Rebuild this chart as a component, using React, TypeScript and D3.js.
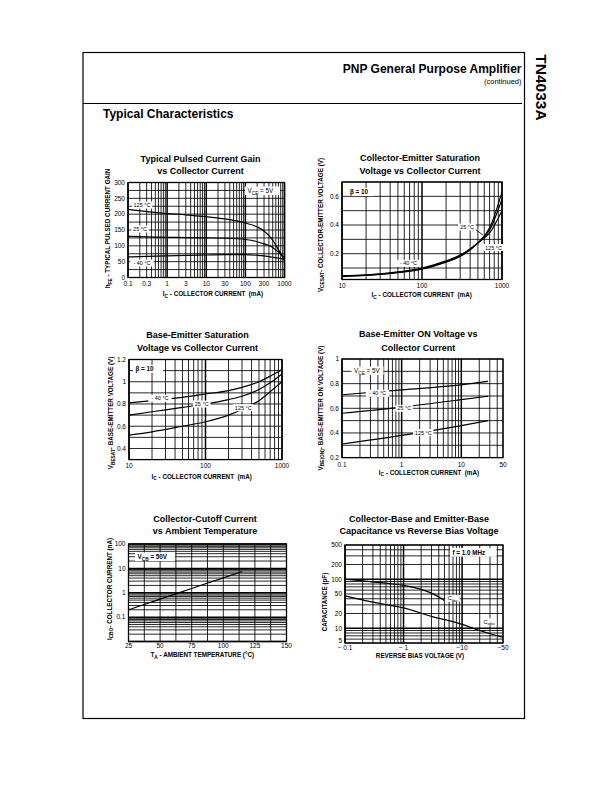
import React from 'react';
import * as d3 from 'd3';

// ---------------- DATA ----------------
// Chart 1: Typical Pulsed Current Gain vs Collector Current
const gainCurrent = [0.1, 0.3, 1, 3, 10, 30, 100, 200, 300, 500, 700, 1000];
const gain125 = [215, 208, 202, 198, 192, 185, 172, 160, 147, 118, 88, 55];
const gain25 = [130, 128, 127, 126, 125, 124, 120, 113, 106, 95, 80, 62];
const gainM40 = [65, 67, 68, 70, 71, 72, 72, 70, 68, 64, 61, 57];
const gainXTicks = [0.1, 0.3, 1, 3, 10, 30, 100, 300, 1000];
const gainYTicks = [0, 50, 100, 150, 200, 250, 300];

// Chart 2: Collector-Emitter Saturation Voltage
const vcesatCurrent = [10, 20, 30, 50, 100, 200, 300, 500, 700, 1000];
const vcesatM40 = [0.04, 0.048, 0.055, 0.068, 0.092, 0.14, 0.18, 0.275, 0.38, 0.63];
const vcesat25 = [0.043, 0.05, 0.057, 0.07, 0.095, 0.145, 0.185, 0.275, 0.365, 0.58];
const vcesat125 = [0.047, 0.053, 0.06, 0.073, 0.1, 0.15, 0.19, 0.275, 0.345, 0.5];
const vcesatXTicks = [10, 100, 1000];
const vcesatYTicks = [0.2, 0.4, 0.6];

// Chart 3: Base-Emitter Saturation Voltage
const vbesatCurrent = [10, 20, 50, 100, 200, 300, 500, 700, 1000];
const vbesatM40 = [0.81, 0.83, 0.86, 0.89, 0.92, 0.95, 1.0, 1.05, 1.11];
const vbesat25 = [0.7, 0.73, 0.77, 0.8, 0.84, 0.87, 0.93, 0.99, 1.07];
const vbesat125 = [0.52, 0.55, 0.6, 0.64, 0.7, 0.75, 0.83, 0.91, 1.0];
const vbesatXTicks = [10, 100, 1000];
const vbesatYTicks = [0.4, 0.6, 0.8, 1, 1.2];

// Chart 4: Base-Emitter ON Voltage
const vbeonCurrent = [0.1, 1, 10, 28];
const vbeonM40 = [0.71, 0.75, 0.79, 0.818];
const vbeon25 = [0.56, 0.61, 0.67, 0.698];
const vbeon125 = [0.31, 0.38, 0.46, 0.5];
const vbeonXTicks = [0.1, 1, 10, 50];
const vbeonYTicks = [0.2, 0.4, 0.6, 0.8, 1];

// Chart 5: Collector-Cutoff Current vs Ambient Temperature
const icboTemp = [25, 50, 75, 100, 115];
const icboCurrent = [0.2, 0.55, 1.5, 4.1, 7.4];
const icboXTicks = [25, 50, 75, 100, 125, 150];
const icboYTicks = [0.1, 1, 10, 100];

// Chart 6: Capacitance vs Reverse Bias Voltage
const ciboVoltage = [0.1, 0.2, 0.5, 1, 2, 3, 5];
const ciboValues = [100, 93, 83, 75, 62, 52, 37];
const coboVoltage = [0.1, 0.3, 1, 3, 10, 20, 50];
const coboValues = [46, 34, 26, 17.5, 12, 9, 6.5];
const capXTicks = [0.1, 1, 10, 50];
const capXLabels = ['\u2212 0.1', '\u2212 1', '\u221210', '\u221250'];
const capYTicks = [5, 10, 20, 50, 100, 200, 500];

// ---------------- HELPERS ----------------
type Pt = [number, number];
const zip = (xs: number[], ys: number[]): Pt[] => xs.map((v, i) => [v, ys[i]] as Pt);

function logGrid(min: number, max: number): number[] {
  const out: number[] = [];
  for (let d = Math.floor(Math.log10(min)); d <= Math.ceil(Math.log10(max)); d++) {
    for (let m = 1; m <= 9; m++) {
      const v = m * Math.pow(10, d);
      if (v >= min * 0.999 && v <= max * 1.001) out.push(v);
    }
  }
  return out;
}
const decades = (vals: number[]) => vals.filter((v) => Math.abs(Math.log10(v) - Math.round(Math.log10(v))) < 1e-6);
const stepGrid = (a: number, b: number, s: number) => d3.range(a, b + s / 2, s).map((v) => +v.toFixed(4));

const FONT = '"Liberation Sans", Arial, Helvetica, sans-serif';

function rich(str: string, subSize: number, shift: number) {
  const parts: { t: string; sub: boolean }[] = [];
  const re = /_\{([^}]*)\}/g;
  let last = 0;
  let m: RegExpExecArray | null;
  while ((m = re.exec(str))) {
    if (m.index > last) parts.push({ t: str.slice(last, m.index), sub: false });
    parts.push({ t: m[1], sub: true });
    last = m.index + m[0].length;
  }
  if (last < str.length) parts.push({ t: str.slice(last), sub: false });
  let shifted = false;
  return parts.map((p, i) => {
    if (p.sub) {
      shifted = true;
      return (
        <tspan key={i} dy={shift} fontSize={subSize}>
          {p.t}
        </tspan>
      );
    }
    const dy = shifted ? -shift : 0;
    shifted = false;
    return (
      <tspan key={i} dy={dy}>
        {p.t}
      </tspan>
    );
  });
}

interface Label { text: string; cx: number; cy: number; }
interface ChartSpec {
  id: string;
  left: number; right: number; top: number; bottom: number;
  x: any; y: any;
  xGrid: number[]; yGrid: number[]; xMajor: number[]; yMajor: number[];
  xTicks: number[]; xTickLabels?: string[]; yTicks: number[]; yTickLabels?: string[];
  yTickNudge?: number[];
  xTickY: number;
  series: Pt[][];
  labels: Label[];
  legend: { text: string; x: number; y: number; w: number; h: number; bold: boolean };
  title: [string, string]; titleX: number; titleY: [number, number];
  xTitle: string; xTitleX: number; xTitleY: number;
  yTitle: string; yTitleX: number; yTitleY: number;
  arrow?: [number, number, number, number];
}

function Chart({ s }: { s: ChartSpec }) {
  const line = d3
    .line<Pt>()
    .x((d) => s.x(d[0]))
    .y((d) => s.y(d[1]))
    .curve(d3.curveMonotoneX);
  const fmt = (v: number) => String(v);
  return (
    <g fontFamily={FONT}>
      <defs>
        <clipPath id={'clip-' + s.id}>
          <rect x={s.left} y={s.top} width={s.right - s.left} height={s.bottom - s.top} />
        </clipPath>
      </defs>
      {/* title */}
      <text x={s.titleX} y={s.titleY[0]} textAnchor="middle" fontSize={9} fontWeight="bold">
        {s.title[0]}
      </text>
      <text x={s.titleX} y={s.titleY[1]} textAnchor="middle" fontSize={9} fontWeight="bold">
        {s.title[1]}
      </text>
      {/* grid */}
      {s.xGrid.map((v, i) => (
        <line key={'xg' + i} x1={s.x(v)} x2={s.x(v)} y1={s.top} y2={s.bottom} stroke="#000"
          strokeWidth={s.xMajor.includes(v) ? 1.5 : 0.85} />
      ))}
      {s.yGrid.map((v, i) => (
        <line key={'yg' + i} x1={s.left} x2={s.right} y1={s.y(v)} y2={s.y(v)} stroke="#000"
          strokeWidth={s.yMajor.includes(v) ? 1.5 : 0.85} />
      ))}
      <rect x={s.left} y={s.top} width={s.right - s.left} height={s.bottom - s.top} fill="none" stroke="#000" strokeWidth={1.3} />
      {/* legend box */}
      <rect x={s.legend.x} y={s.legend.y} width={s.legend.w} height={s.legend.h} fill="#fff" />
      <text x={s.legend.x + 2.5} y={s.legend.y + s.legend.h - 2} fontSize={6.3} fontWeight={s.legend.bold ? 'bold' : 'normal'} style={{ whiteSpace: 'pre' }}>
        {rich(s.legend.text, 4.8, 1.6)}
      </text>
      {/* curves */}
      <g clipPath={`url(#clip-${s.id})`}>
        {s.series.map((pts, i) => (
          <path key={'c' + i} d={line(pts) || ''} fill="none" stroke="#000" strokeWidth={1.2} />
        ))}
      </g>
      {s.arrow && (
        <line x1={s.arrow[0]} y1={s.arrow[1]} x2={s.arrow[2]} y2={s.arrow[3]} stroke="#000" strokeWidth={0.8} />
      )}
      {/* curve labels */}
      {s.labels.map((l, i) => {
        const plain = l.text.replace(/_\{|\}/g, '');
        const w = plain.length * 2.9 + 3;
        return (
          <g key={'l' + i}>
            <rect x={l.cx - w / 2} y={l.cy - 3.5} width={w} height={7} fill="#fff" />
            <text x={l.cx} y={l.cy + 2} textAnchor="middle" fontSize={5.5} style={{ whiteSpace: 'pre' }}>
              {rich(l.text, 4.2, 1.5)}
            </text>
          </g>
        );
      })}
      {/* ticks */}
      {s.xTicks.map((v, i) => (
        <text key={'xt' + i} x={s.x(v)} y={s.xTickY + 2.3} textAnchor="middle" fontSize={6.5}>
          {s.xTickLabels ? s.xTickLabels[i] : fmt(v)}
        </text>
      ))}
      {s.yTicks.map((v, i) => (
        <text key={'yt' + i} x={s.left - 3} y={s.y(v) + 2.3 + (s.yTickNudge ? s.yTickNudge[i] : 0)} textAnchor="end" fontSize={6.5}>
          {s.yTickLabels ? s.yTickLabels[i] : fmt(v)}
        </text>
      ))}
      {/* axis titles */}
      <text x={s.xTitleX} y={s.xTitleY + 2.2} textAnchor="middle" fontSize={6.3} fontWeight="bold" style={{ whiteSpace: 'pre' }}>
        {rich(s.xTitle, 4.8, 1.5)}
      </text>
      <text transform={`translate(${s.yTitleX + 2.2},${s.yTitleY}) rotate(-90)`} textAnchor="middle" fontSize={6.3} fontWeight="bold" style={{ whiteSpace: 'pre' }}>
        {rich(s.yTitle, 4.8, 1.5)}
      </text>
    </g>
  );
}

// ---------------- SPECS ----------------
function buildSpecs(): ChartSpec[] {
  // Chart 1
  const x1 = d3.scaleLog().domain([0.1, 1000]).range([128, 284.5]);
  const y1 = d3.scaleLinear().domain([0, 300]).range([277.5, 182.5]);
  const g1 = logGrid(0.1, 1000);
  const c1: ChartSpec = {
    id: 'c1', left: 128, right: 284.5, top: 182.5, bottom: 277.5, x: x1, y: y1,
    xGrid: g1, xMajor: decades(g1), yGrid: stepGrid(0, 300, 25), yMajor: [],
    xTicks: gainXTicks, yTicks: gainYTicks, xTickY: 284,
    series: [zip(gainCurrent, gain125), zip(gainCurrent, gain25), zip(gainCurrent, gainM40)],
    labels: [
      { text: '125 °C', cx: 142, cy: 205 },
      { text: '25 °C', cx: 140, cy: 229 },
      { text: '- 40 °C', cx: 142, cy: 263 },
    ],
    legend: { text: 'V_{CE} = 5V', x: 245, y: 186.5, w: 35, h: 8.5, bold: false },
    title: ['Typical Pulsed Current Gain', 'vs Collector Current'], titleX: 200.5, titleY: [161.6, 174],
    xTitle: 'I_{C} - COLLECTOR CURRENT  (mA)', xTitleX: 213, xTitleY: 294,
    yTitle: 'h_{FE} - TYPICAL PULSED CURRENT GAIN', yTitleX: 108, yTitleY: 228.5,
  };
  // Chart 2
  const x2 = d3.scaleLog().domain([10, 1000]).range([342, 502]);
  const y2 = d3.scaleLinear().domain([0.02, 0.7]).range([279.5, 182]);
  const g2 = logGrid(10, 1000);
  const c2: ChartSpec = {
    id: 'c2', left: 342, right: 502, top: 182, bottom: 279.5, x: x2, y: y2,
    xGrid: g2, xMajor: decades(g2), yGrid: stepGrid(0.1, 0.7, 0.1), yMajor: [],
    xTicks: vcesatXTicks, yTicks: vcesatYTicks, xTickY: 286,
    series: [zip(vcesatCurrent, vcesatM40), zip(vcesatCurrent, vcesat25), zip(vcesatCurrent, vcesat125)],
    labels: [
      { text: '25 °C', cx: 467, cy: 227 },
      { text: '125 °C', cx: 493.5, cy: 247.5 },
      { text: '- 40 °C', cx: 408.5, cy: 263.3 },
    ],
    arrow: [474, 228.5, 483, 235],
    legend: { text: 'β = 10', x: 347.5, y: 188, w: 26, h: 8, bold: true },
    title: ['Collector-Emitter Saturation', 'Voltage vs Collector Current'], titleX: 420, titleY: [160.5, 174],
    xTitle: 'I_{C} - COLLECTOR CURRENT  (mA)', xTitleX: 421.7, xTitleY: 295,
    yTitle: 'V_{CESAT}- COLLECTOR-EMITTER VOLTAGE (V)', yTitleX: 320.5, yTitleY: 225,
  };
  // Chart 3
  const x3 = d3.scaleLog().domain([10, 1000]).range([129, 282]);
  const y3 = d3.scaleLinear().domain([0.3, 1.2]).range([459.6, 359.5]);
  const g3 = logGrid(10, 1000);
  const c3: ChartSpec = {
    id: 'c3', left: 129, right: 282, top: 359.5, bottom: 459.6, x: x3, y: y3,
    xGrid: g3, xMajor: decades(g3), yGrid: stepGrid(0.4, 1.2, 0.1), yMajor: [],
    xTicks: vbesatXTicks, yTicks: vbesatYTicks, xTickY: 465.7,
    series: [zip(vbesatCurrent, vbesatM40), zip(vbesatCurrent, vbesat25), zip(vbesatCurrent, vbesat125)],
    labels: [
      { text: '- 40 °C', cx: 160, cy: 398.3 },
      { text: '25 °C', cx: 201.7, cy: 404 },
      { text: '125 °C', cx: 243.3, cy: 407.7 },
    ],
    legend: { text: 'β = 10', x: 133, y: 364.8, w: 30, h: 8, bold: true },
    title: ['Base-Emitter Saturation', 'Voltage vs Collector Current'], titleX: 197.5, titleY: [337.5, 351],
    xTitle: 'I_{C} - COLLECTOR CURRENT  (mA)', xTitleX: 201.7, xTitleY: 476.5,
    yTitle: 'V_{BESAT}- BASE-EMITTER VOLTAGE (V)', yTitleX: 111, yTitleY: 413,
  };
  // Chart 4
  const x4 = d3.scaleLog().domain([0.1, 50]).range([342, 503]);
  const y4 = d3.scaleLinear().domain([0.2, 1.0]).range([457.6, 359]);
  const g4 = logGrid(0.1, 50);
  const c4: ChartSpec = {
    id: 'c4', left: 342, right: 503, top: 359, bottom: 457.6, x: x4, y: y4,
    xGrid: g4, xMajor: decades(g4), yGrid: stepGrid(0.2, 1.0, 0.1), yMajor: [],
    xTicks: vbeonXTicks, yTicks: vbeonYTicks, xTickY: 464.5,
    series: [zip(vbeonCurrent, vbeonM40), zip(vbeonCurrent, vbeon25), zip(vbeonCurrent, vbeon125)],
    labels: [
      { text: '- 40 °C', cx: 377.5, cy: 393.3 },
      { text: '25 °C', cx: 404.2, cy: 408.3 },
      { text: '125 °C', cx: 423.3, cy: 432.7 },
    ],
    legend: { text: 'V_{CE} = 5V', x: 351.5, y: 366.5, w: 32, h: 8.5, bold: false },
    title: ['Base-Emitter ON Voltage vs', 'Collector Current'], titleX: 418.3, titleY: [337, 350.5],
    xTitle: 'I_{C} - COLLECTOR CURRENT  (mA)', xTitleX: 429, xTitleY: 472.5,
    yTitle: 'V_{BE(ON)}- BASE-EMITTER ON VOLTAGE (V)', yTitleX: 320.5, yTitleY: 408,
  };
  // Chart 5
  const x5 = d3.scaleLinear().domain([25, 150]).range([128.5, 286.5]);
  const y5 = d3.scaleLog().domain([0.01, 100]).range([641.5, 544]);
  const g5 = logGrid(0.01, 100);
  const c5: ChartSpec = {
    id: 'c5', left: 128.5, right: 286.5, top: 544, bottom: 641.5, x: x5, y: y5,
    xGrid: stepGrid(25, 150, 12.5), xMajor: [], yGrid: g5, yMajor: decades(g5),
    xTicks: icboXTicks, yTicks: icboYTicks, xTickY: 645.5,
    series: [zip(icboTemp, icboCurrent)],
    labels: [],
    legend: { text: 'V_{CB} = 50V', x: 135, y: 552.5, w: 40, h: 8.5, bold: true },
    title: ['Collector-Cutoff Current', 'vs Ambient Temperature'], titleX: 205, titleY: [521.5, 534],
    xTitle: 'T_{A} - AMBIENT TEMPERATURE (°C)', xTitleX: 202.3, xTitleY: 655,
    yTitle: 'I_{CBO}- COLLECTOR CURRENT (nA)', yTitleX: 109.5, yTitleY: 589,
  };
  // Chart 6
  const x6 = d3.scaleLog().domain([0.1, 50]).range([345, 503]);
  const y6 = d3.scaleLog().domain([5, 500]).range([643, 545]);
  const g6x = logGrid(0.1, 50);
  const g6y = logGrid(5, 500);
  const c6: ChartSpec = {
    id: 'c6', left: 345, right: 503, top: 545, bottom: 643, x: x6, y: y6,
    xGrid: g6x, xMajor: decades(g6x), yGrid: g6y, yMajor: decades(g6y),
    xTicks: capXTicks, xTickLabels: capXLabels, yTicks: capYTicks, yTickNudge: [-2, 0, 0, 0, 0, 0, 0], xTickY: 648,
    series: [zip(ciboVoltage, ciboValues), zip(coboVoltage, coboValues)],
    labels: [
      { text: 'C_{ibo}', cx: 452.5, cy: 598.3 },
      { text: 'C_{obo}', cx: 489, cy: 621.7 },
    ],
    legend: { text: 'f = 1.0 MHz', x: 450, y: 548, w: 46.5, h: 8.7, bold: true },
    title: ['Collector-Base and Emitter-Base', 'Capacitance vs Reverse Bias Voltage'], titleX: 419, titleY: [521.5, 534],
    xTitle: 'REVERSE BIAS VOLTAGE (V)', xTitleX: 420, xTitleY: 656,
    yTitle: 'CAPACITANCE (pF)', yTitleX: 325, yTitleY: 602,
  };
  return [c1, c2, c3, c4, c5, c6];
}

export default function App() {
  const specs = buildSpecs();
  return (
    <svg width={612} height={792} viewBox="0 0 612 792" style={{ position: 'absolute', left: 0, top: 0, background: '#fff' }}
      fontFamily={FONT}>
      <rect x={0} y={0} width={612} height={792} fill="#fff" />
      {/* page frame */}
      <rect x={83} y={52.5} width={441.5} height={666} fill="none" stroke="#000" strokeWidth={1.2} />
      <text x={521.5} y={72.5} textAnchor="end" fontSize={12} fontWeight="bold">PNP General Purpose Amplifier</text>
      <text x={521.5} y={84} textAnchor="end" fontSize={7.5}>(continued)</text>
      <line x1={83} x2={522} y1={103.5} y2={103.5} stroke="#000" strokeWidth={1} />
      <text x={103} y={117.5} fontSize={12} fontWeight="bold">Typical Characteristics</text>
      <text transform="translate(541.5,87.5) rotate(90)" textAnchor="middle" dominantBaseline="central" fontSize={15.5} fontWeight="bold">
        TN4033A
      </text>
      {specs.map((s) => (
        <Chart key={s.id} s={s} />
      ))}
    </svg>
  );
}
